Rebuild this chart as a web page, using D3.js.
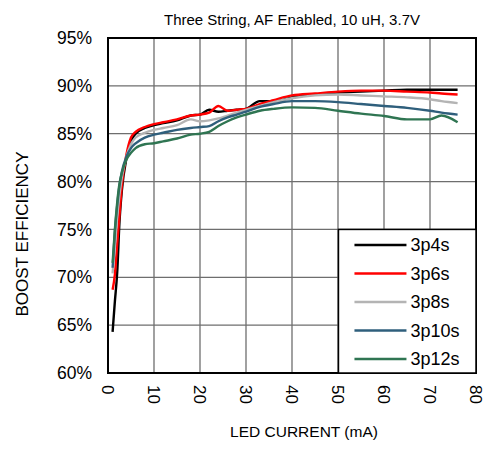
<!DOCTYPE html>
<html>
<head>
<meta charset="utf-8">
<script src="https://cdn.jsdelivr.net/npm/d3@7"></script>
<style>
  body { margin: 0; background: #fff; }
  text { font-family: "Liberation Sans", Arial, sans-serif; }
</style>
</head>
<body>
<div id="chart"></div>
<script>
const current = [1, 1.5, 2, 2.5, 3, 4, 5, 6, 8, 10, 12, 15, 18, 20, 22, 24, 26, 28, 30, 33, 36, 40, 45, 50, 55, 60, 65, 70, 72.5, 76];

const eff3p4s  = [64.3, 67.5, 70.5, 75.8, 79.0, 82.4, 84.2, 85.0, 85.6, 85.9, 86.1, 86.4, 86.9, 87.0, 87.5, 87.3, 87.4, 87.5, 87.6, 88.4, 88.4, 88.8, 89.1, 89.3, 89.4, 89.5, 89.6, 89.6, 89.6, 89.6];
const eff3p6s  = [68.7, 70.3, 73.5, 76.5, 79.5, 82.8, 84.6, 85.2, 85.7, 86.0, 86.2, 86.5, 86.9, 87.0, 87.2, 87.9, 87.4, 87.5, 87.6, 88.1, 88.5, 89.0, 89.2, 89.4, 89.5, 89.5, 89.4, 89.3, 89.2, 89.1];
const eff3p8s  = [70.4, 73.2, 76.3, 78.6, 80.4, 82.6, 83.9, 84.6, 85.1, 85.4, 85.6, 85.9, 86.5, 86.3, 86.4, 86.6, 86.9, 87.2, 87.5, 87.9, 88.3, 88.7, 89.0, 89.1, 89.0, 88.9, 88.8, 88.6, 88.4, 88.2];
const eff3p10s = [71.0, 74.8, 77.5, 79.6, 81.0, 82.6, 83.5, 84.0, 84.6, 84.9, 85.1, 85.4, 85.6, 85.7, 85.8, 86.3, 86.7, 87.0, 87.3, 87.8, 88.1, 88.4, 88.4, 88.3, 88.1, 87.9, 87.7, 87.4, 87.2, 87.0];
const eff3p12s = [71.5, 75.0, 77.8, 79.8, 80.9, 82.3, 83.0, 83.5, 83.9, 84.0, 84.2, 84.5, 84.9, 85.0, 85.2, 85.8, 86.3, 86.7, 87.0, 87.4, 87.6, 87.75, 87.7, 87.4, 87.1, 86.85, 86.5, 86.5, 86.9, 86.2];

const seriesNames = ['3p4s', '3p6s', '3p8s', '3p10s', '3p12s'];
const seriesValues = [eff3p4s, eff3p6s, eff3p8s, eff3p10s, eff3p12s];
const seriesColors = ['#000000', '#ff0000', '#b4b4b4', '#2f5f7c', '#2f7552'];

const xTicks = [0, 10, 20, 30, 40, 50, 60, 70, 80];
const yTicks = [60, 65, 70, 75, 80, 85, 90, 95];

const width = 485, height = 468;
const margin = { top: 38, right: 9, bottom: 95, left: 108 };
const plotW = width - margin.left - margin.right;
const plotH = height - margin.top - margin.bottom;

const svg = d3.select('#chart').append('svg')
  .attr('width', width)
  .attr('height', height);

const x = d3.scaleLinear().domain([0, 80]).range([0, plotW]);
const y = d3.scaleLinear().domain([60, 95]).range([plotH, 0]);

const plot = svg.append('g')
  .attr('transform', `translate(${margin.left},${margin.top})`);

// grid
plot.append('g')
  .selectAll('line')
  .data(xTicks)
  .enter().append('line')
  .attr('x1', d => x(d)).attr('x2', d => x(d))
  .attr('y1', 0).attr('y2', plotH)
  .attr('stroke', '#6e6e6e').attr('stroke-width', 1.3);

plot.append('g')
  .selectAll('line')
  .data(yTicks)
  .enter().append('line')
  .attr('x1', 0).attr('x2', plotW)
  .attr('y1', d => y(d)).attr('y2', d => y(d))
  .attr('stroke', '#6e6e6e').attr('stroke-width', 1.3);

// lines
const line = d3.line()
  .x(d => x(d[0]))
  .y(d => y(d[1]))
  .curve(d3.curveMonotoneX);

seriesValues.forEach((vals, i) => {
  plot.append('path')
    .datum(current.map((c, j) => [c, vals[j]]))
    .attr('fill', 'none')
    .attr('stroke', seriesColors[i])
    .attr('stroke-width', 2.4)
    .attr('d', line);
});

// border
plot.append('rect')
  .attr('width', plotW).attr('height', plotH)
  .attr('fill', 'none')
  .attr('stroke', '#000').attr('stroke-width', 2);

// y tick labels
plot.append('g')
  .selectAll('text')
  .data(yTicks)
  .enter().append('text')
  .attr('x', -16)
  .attr('y', d => y(d))
  .attr('dy', '0.35em')
  .attr('text-anchor', 'end')
  .style('font-size', '17.5px')
  .text(d => d + '%');

// x tick labels (rotated)
plot.append('g')
  .selectAll('text')
  .data(xTicks)
  .enter().append('text')
  .attr('transform', d => `translate(${x(d)},${plotH + 12}) rotate(90)`)
  .attr('dy', '0.35em')
  .attr('text-anchor', 'start')
  .style('font-size', '17px')
  .text(d => d);

// legend
const lgX = x(50.1), lgY = y(75);
const lg = plot.append('g')
  .attr('transform', `translate(${lgX},${lgY})`);
lg.append('rect')
  .attr('width', plotW - lgX).attr('height', plotH - lgY)
  .attr('fill', '#fff')
  .attr('stroke', '#000').attr('stroke-width', 1.5);

seriesNames.forEach((name, i) => {
  const ly = 15.5 + i * 28.5;
  lg.append('line')
    .attr('x1', 16).attr('x2', 68)
    .attr('y1', ly).attr('y2', ly)
    .attr('stroke', seriesColors[i]).attr('stroke-width', 2.4);
  lg.append('text')
    .attr('x', 72).attr('y', ly)
    .attr('dy', '0.35em')
    .style('font-size', '18px')
    .text(name);
});

// title and axis labels
svg.append('text')
  .attr('x', margin.left + plotW / 2)
  .attr('y', 25)
  .attr('text-anchor', 'middle')
  .style('font-size', '15px')
  .text('Three String, AF Enabled, 10 uH, 3.7V');

svg.append('text')
  .attr('x', 304)
  .attr('y', 437)
  .attr('text-anchor', 'middle')
  .style('font-size', '15.5px')
  .text('LED CURRENT (mA)');

svg.append('text')
  .attr('transform', `translate(28,234) rotate(-90)`)
  .attr('text-anchor', 'middle')
  .style('font-size', '17px')
  .text('BOOST EFFICIENCY');
</script>
</body>
</html>
